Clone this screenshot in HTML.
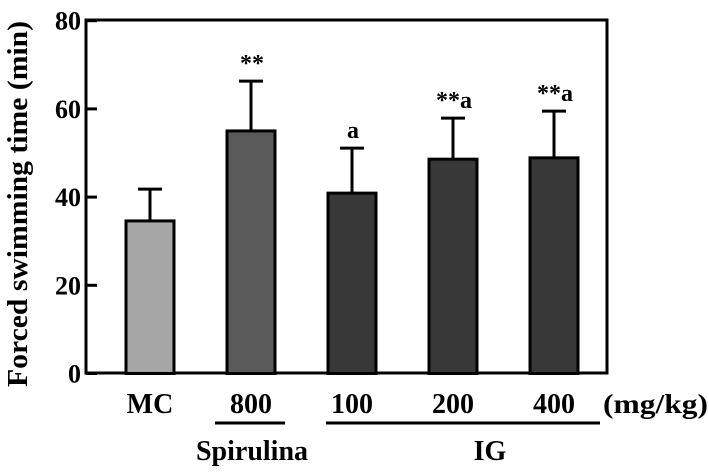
<!DOCTYPE html>
<html><head><meta charset="utf-8"><style>
body{margin:0;background:#fff}
svg text{font-family:"Liberation Serif",serif;font-weight:bold;fill:#000}
</style></head><body>
<svg id="c" width="709" height="471">
<rect x="86" y="20" width="521" height="353" fill="none" stroke="#000" stroke-width="3"/>
<text transform="translate(27,204) rotate(-90)" text-anchor="middle" font-size="28" textLength="366" lengthAdjust="spacingAndGlyphs">Forced swimming time (min)</text>
<g id="g"></g>
<line x1="215" y1="423" x2="285" y2="423" stroke="#000" stroke-width="3"/>
<line x1="326" y1="423" x2="600" y2="423" stroke="#000" stroke-width="3"/>
<text x="252" y="460" text-anchor="middle" font-size="28">Spirulina</text>
<text x="490" y="460" text-anchor="middle" font-size="28">IG</text>
<text x="603" y="413" font-size="27" textLength="105" lengthAdjust="spacingAndGlyphs">(mg/kg)</text>
</svg>
<script>
const categories=["MC","800","100","200","400"];
const means=[34.6,55,40.9,48.6,48.9];
const errors=[7.2,11.3,10.2,9.3,10.6];
const marks=["","**","a","**a","**a"];
const fills=["#a6a6a6","#5a5a5a","#383838","#383838","#383838"];
const yTicks=[0,20,40,60,80];
const y=v=>373.5-v*4.41;
const x=i=>150+i*101;
const g=document.getElementById('g');
const ns="http://www.w3.org/2000/svg";
function mk(t,a){const e=document.createElementNS(ns,t);for(const k in a)e.setAttribute(k,a[k]);g.appendChild(e);return e;}
yTicks.forEach(v=>{
 const l=mk('line',{x1:86,x2:97,y1:y(v),y2:y(v),stroke:'#000','stroke-width':3});
 
 
 const t=mk('text',{x:81,y:y(v)+9,'text-anchor':'end','font-size':26});
 t.textContent=v;
 
 
});
categories.forEach((c,i)=>{
 const top=y(means[i]),cap=y(means[i]+errors[i]);
 const e=mk('line',{x1:x(i),x2:x(i),y1:cap,y2:top,stroke:'#000','stroke-width':3});
 
 
 const cp=mk('line',{x1:x(i)-12,x2:x(i)+12,y1:cap,y2:cap,stroke:'#000','stroke-width':3});
 
 
 const r=mk('rect',{x:x(i)-24,y:top,width:48,height:y(0)-top,fill:fills[i],stroke:'#000','stroke-width':3});
 
 
 const t=mk('text',{x:x(i),y:413,'text-anchor':'middle','font-size':28});
 t.textContent=c;
 
 
 if(marks[i]){
  const m=mk('text',{x:x(i)+1,y:cap-10,'text-anchor':'middle','font-size':24});
  m.textContent=marks[i];
  
  
 }
});
</script>
</body></html>
